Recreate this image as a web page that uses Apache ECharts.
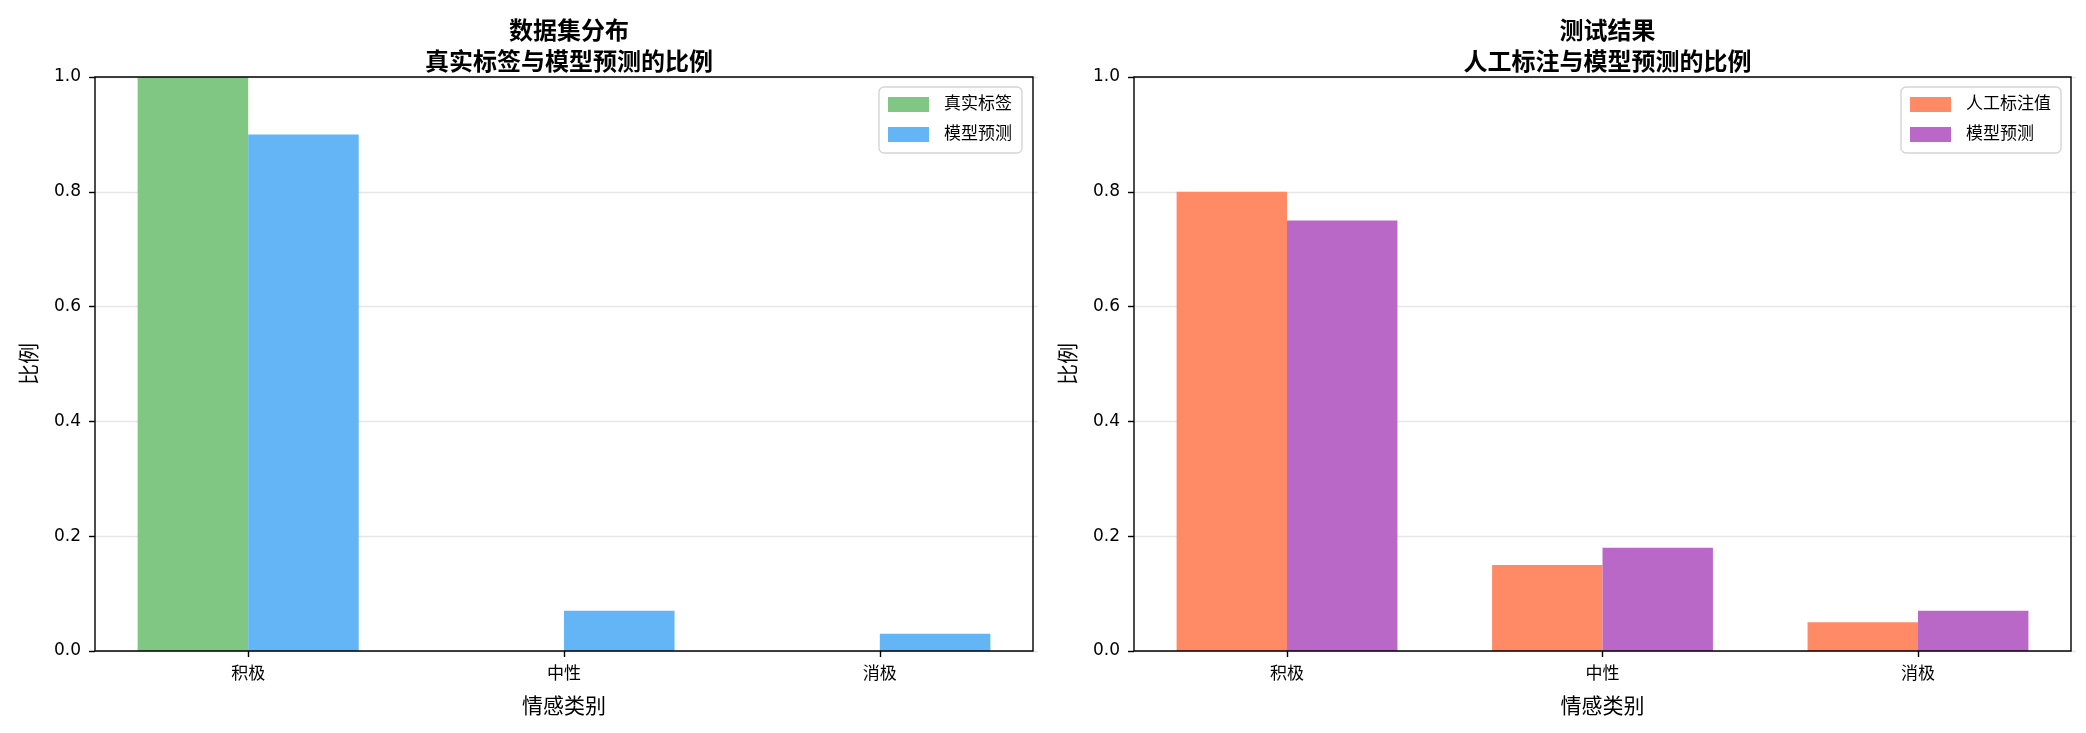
<!DOCTYPE html>
<html>
<head>
<meta charset="utf-8">
<script src="https://cdn.jsdelivr.net/npm/echarts@6/dist/echarts.min.js"></script>
<style>
  html, body { margin: 0; padding: 0; background: #fff; }
  #chart { width: 2086px; height: 733px; }
</style>
</head>
<body>
<div id="chart"></div>
<script>
// 类别与数据
const categories = ["积极", "中性", "消极"];
const leftTrue = [1.0, 0.0, 0.0];
const leftPred = [0.9, 0.07, 0.03];
const rightLabel = [0.8, 0.15, 0.05];
const rightPred = [0.75, 0.18, 0.07];
const yTicks = [0, 0.2, 0.4, 0.6, 0.8, 1.0];

const FONT = "'DejaVu Sans', 'Noto Sans CJK SC', sans-serif";

// 画框位置（像素）
const frames = [
  { x: 95, y: 77, w: 938, h: 574 },
  { x: 1134, y: 77, w: 937, h: 574 },
];
// matplotlib 的 xlim 为 -0.485 ~ 2.485，类别带宽比画框多出 0.015 个单位
function outset(f) {
  const unit = f.w / 2.97;
  return unit * 0.015;
}

const myChart = echarts.init(document.getElementById("chart"), null, { renderer: "canvas" });

function makeYAxis(i, f) {
  return {
    type: "value",
    gridIndex: i,
    min: yTicks[0],
    max: yTicks[yTicks.length - 1],
    interval: 0.2,
    offset: -outset(f),
    name: "比例",
    nameLocation: "middle",
    nameGap: 54,
    nameTextStyle: { fontSize: 21, color: "#000", fontFamily: FONT },
    axisLine: { show: false },
    axisTick: { show: true, length: 6, lineStyle: { color: "#000", width: 1.4 } },
    axisLabel: {
      fontSize: 17, color: "#000", fontFamily: FONT, margin: 14,
      formatter: (v) => v.toFixed(1),
    },
    splitLine: { show: true, lineStyle: { color: "#e6e6e6", width: 1.3 } },
  };
}

function makeXAxis(i) {
  return {
    type: "category",
    gridIndex: i,
    data: categories,
    name: "情感类别",
    nameLocation: "middle",
    nameGap: 46,
    nameTextStyle: { fontSize: 21, color: "#000", fontFamily: FONT },
    axisLine: { show: false },
    axisTick: { show: true, alignWithLabel: true, length: 6, lineStyle: { color: "#000", width: 1.4 } },
    axisLabel: { fontSize: 17, color: "#000", fontFamily: FONT, margin: 15 },
    splitLine: { show: false },
  };
}

function makeLegend(names, rightPx) {
  return {
    data: names,
    orient: "vertical",
    right: rightPx,
    top: 87,
    itemWidth: 41,
    itemHeight: 15,
    itemGap: 13,
    icon: "rect",
    padding: [9, 10, 10, 9],
    backgroundColor: "#fff",
    borderColor: "#d5d5d5",
    borderWidth: 1.4,
    borderRadius: 5,
    textStyle: { fontSize: 17, color: "#000", fontFamily: FONT, padding: [0, 0, 0, 10] },
  };
}

function bar(name, data, color, i) {
  return {
    name: name,
    type: "bar",
    xAxisIndex: i,
    yAxisIndex: i,
    data: data,
    barWidth: "35%",
    barGap: "0%",
    itemStyle: { color: color },
    emphasis: { disabled: true },
  };
}

const options = {
  animation: false,
  backgroundColor: "#fff",
  title: [
    {
      text: "数据集分布\n真实标签与模型预测的比例",
      left: frames[0].x + frames[0].w / 2,
      top: 12,
      textAlign: "center",
      textStyle: { fontSize: 24, fontWeight: "bold", lineHeight: 31, color: "#000", fontFamily: FONT },
    },
    {
      text: "测试结果\n人工标注与模型预测的比例",
      left: frames[1].x + frames[1].w / 2,
      top: 12,
      textAlign: "center",
      textStyle: { fontSize: 24, fontWeight: "bold", lineHeight: 31, color: "#000", fontFamily: FONT },
    },
  ],
  legend: [
    makeLegend(["真实标签", "模型预测"], 2086 - 1022),
    makeLegend(["人工标注值", "模型预测2"], 2086 - 2061),
  ],
  grid: frames.map((f) => ({
    left: f.x - outset(f),
    top: f.y,
    width: f.w + 2 * outset(f),
    height: f.h,
    containLabel: false,
  })),
  xAxis: [makeXAxis(0), makeXAxis(1)],
  yAxis: [makeYAxis(0, frames[0]), makeYAxis(1, frames[1])],
  series: [
    bar("真实标签", leftTrue, "#81C784", 0),
    bar("模型预测", leftPred, "#64B5F6", 0),
    bar("人工标注值", rightLabel, "#FF8A65", 1),
    bar("模型预测2", rightPred, "#BA68C8", 1),
  ],
  // 外框
  graphic: frames.map((f) => ({
    type: "rect",
    z: 100,
    silent: true,
    shape: { x: f.x, y: f.y, width: f.w, height: f.h },
    style: { fill: null, stroke: "#000", lineWidth: 1.4 },
  })),
};

// 右图图例显示名称
options.legend[1].formatter = (n) => (n === "模型预测2" ? "模型预测" : n);

myChart.setOption(options);
</script>
</body>
</html>
